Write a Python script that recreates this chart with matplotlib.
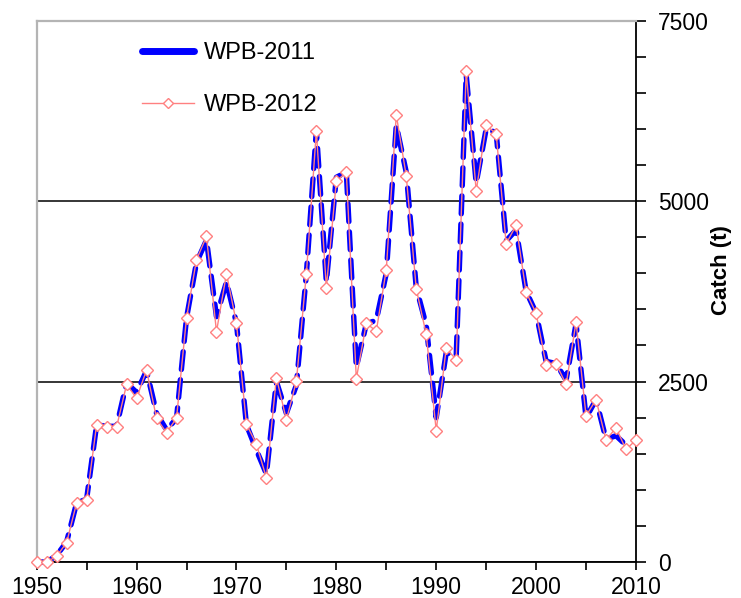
import matplotlib
matplotlib.use("Agg")
import matplotlib.pyplot as plt
from matplotlib.lines import Line2D
from matplotlib.ticker import MultipleLocator

plt.rcParams['font.family'] = ['Liberation Sans', 'DejaVu Sans']

years_2012 = list(range(1950, 2011))
catch_2012 = [0, 0, 80, 270, 820, 860, 1900, 1870, 1870, 2460,
              2270, 2660, 1990, 1790, 1995, 3380, 4190, 4510, 3190, 3995,
              3310, 1910, 1630, 1165, 2555, 1970, 2505, 3995, 5970, 3800,
              5275, 5400, 2540, 3305, 3200, 4050, 6195, 5350, 3785, 3155,
              1820, 2960, 2805, 6800, 5140, 6050, 5935, 4410, 4665, 3740,
              3445, 2735, 2750, 2460, 3325, 2025, 2250, 1690, 1860, 1560,
              1690]

years_2011 = list(range(1950, 2010))
catch_2011 = [0, 0, 90, 280, 820, 870, 1900, 1880, 1880, 2480,
              2350, 2650, 2060, 1830, 1990, 3380, 4150, 4460, 3400, 3880,
              3310, 1900, 1550, 1220, 2500, 2060, 2450, 3990, 5980, 3880,
              5330, 5400, 2700, 3300, 3350, 4000, 6050, 5400, 3800, 3280,
              2000, 2900, 2850, 6750, 5250, 6000, 5950, 4450, 4600, 3750,
              3450, 2780, 2750, 2520, 3300, 2000, 2250, 1700, 1750, 1620]

labels = ['WPB-2011', 'WPB-2012']
blue = '#0000FF'
red = '#FF8080'

fig = plt.figure(figsize=(7.41, 5.98), dpi=100)
ax = fig.add_axes([0.0495, 0.0602, 0.8088, 0.9052])

ax.plot(years_2011, catch_2011, color=blue, lw=3.9, ls=(0, (3.3, 1.9)),
        dash_capstyle='round', zorder=3, clip_on=False)
ax.plot(years_2012, catch_2012, color=red, lw=1.0, marker='D', ms=6.2,
        mfc='white', mec=red, mew=1.0, zorder=4, clip_on=False)

ax.set_xlim(1950, 2010)
ax.set_ylim(0, 7500)

ax.xaxis.set_major_locator(MultipleLocator(10))
ax.xaxis.set_minor_locator(MultipleLocator(5))
ax.yaxis.set_major_locator(MultipleLocator(2500))
ax.yaxis.set_minor_locator(MultipleLocator(500))

ax.yaxis.tick_right()
ax.yaxis.set_label_position('right')
ax.tick_params(axis='both', which='both', direction='out', length=7,
               width=1.2, color='black', labelsize=16.5)
ax.tick_params(axis='x', which='both', length=6, pad=4)
ax.tick_params(axis='y', pad=9)

ax.grid(axis='y', which='major', color='black', lw=1.1)
ax.set_axisbelow(True)

for side in ['bottom', 'right']:
    ax.spines[side].set_color('black')
    ax.spines[side].set_linewidth(1.3)
for side in ['top', 'left']:
    ax.spines[side].set_color('#b4b4b4')
    ax.spines[side].set_linewidth(1.6)
for sp in ax.spines.values():
    sp.set_zorder(2.5)

ax.set_ylabel('Catch (t)', fontsize=16, fontweight='bold')
ax.yaxis.set_label_coords(1.125, 0.54)

handles = [Line2D([], [], color=blue, lw=5, solid_capstyle='round'),
           Line2D([], [], color=red, lw=1.0, marker='D', ms=5,
                  mfc='white', mec=red, mew=1.0)]
ax.legend(handles, labels, loc='center left', bbox_to_anchor=(0.175, 0.892),
          frameon=False, fontsize=17, handlelength=2.2, handletextpad=0.45,
          labelspacing=1.3, borderpad=0, borderaxespad=0)

fig.savefig('out.png', dpi=100)
